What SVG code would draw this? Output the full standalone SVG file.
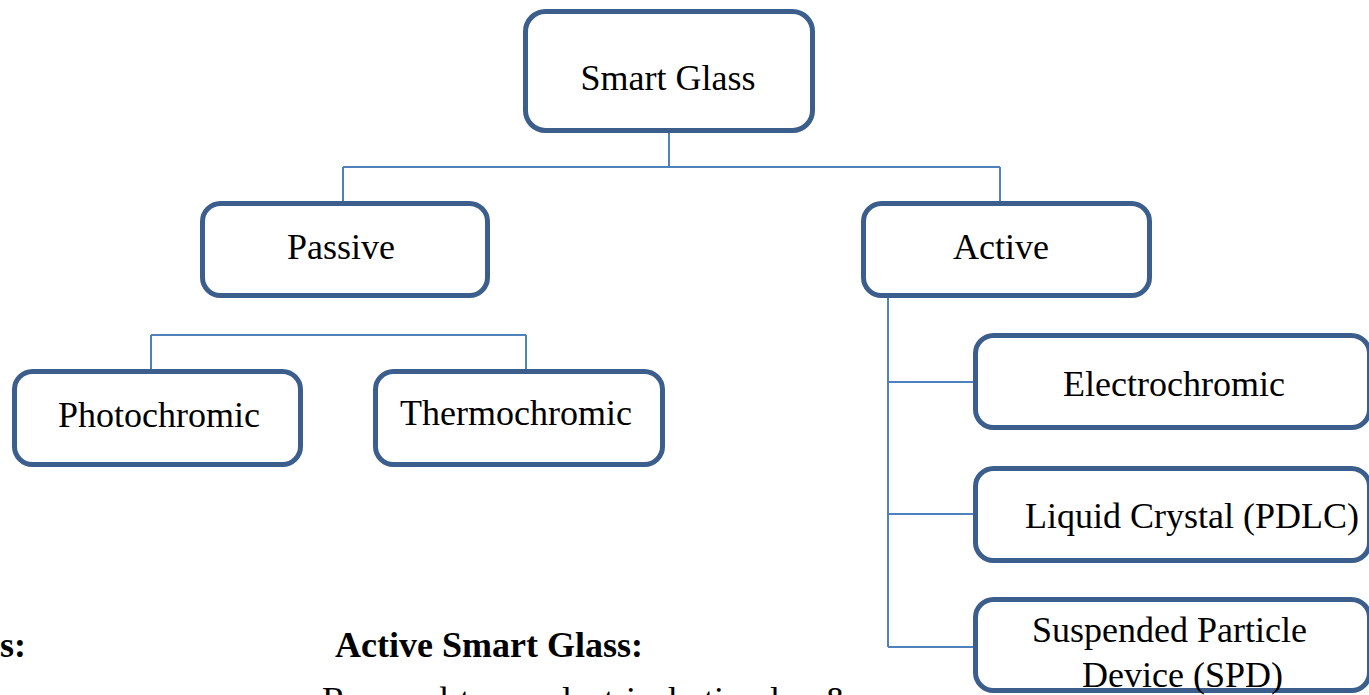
<svg xmlns="http://www.w3.org/2000/svg" width="1369" height="695" viewBox="0 0 1369 695">
<style>
.box{fill:#fff;stroke:#3B5E8C;stroke-width:5}
.lbl{font-family:"Liberation Serif","Times New Roman",serif;font-size:36px;fill:#000}
.mid{text-anchor:middle}
.bold{font-weight:bold}
.con{fill:none;stroke:#4F81BD;stroke-width:2}
</style>
<rect width="1369" height="695" fill="#fff"/>
<g id="connectors">
<path class="con" d="M669 133V167M343 167H1000M343 167V201M1000 167V201"/>
<path class="con" d="M151 335H526M151 335V369M526 335V369"/>
<path class="con" d="M888 298V647M888 382H973M888 514H973M888 647H973"/>
</g>
<g id="smart-glass"><rect class="box" x="525.5" y="11.5" width="287" height="119" rx="20"/><text class="lbl mid" x="668" y="90">Smart Glass</text></g>
<g id="passive"><rect class="box" x="202.5" y="203.5" width="285" height="92" rx="18"/><text class="lbl mid" x="341" y="259">Passive</text></g>
<g id="active"><rect class="box" x="863.5" y="203.5" width="286" height="92" rx="18"/><text class="lbl mid" x="1001" y="259">Active</text></g>
<g id="photochromic"><rect class="box" x="14.5" y="371.5" width="286" height="93" rx="18"/><text class="lbl" x="58" y="427">Photochromic</text></g>
<g id="thermochromic"><rect class="box" x="375.5" y="371.5" width="287" height="93" rx="18"/><text class="lbl" x="400" y="425">Thermochromic</text></g>
<g id="electrochromic"><rect class="box" x="975.5" y="335.5" width="394" height="92" rx="18"/><text class="lbl mid" x="1174" y="396">Electrochromic</text></g>
<g id="liquid-crystal"><rect class="box" x="975.5" y="468.5" width="394" height="92" rx="18"/><text class="lbl" x="1025" y="528">Liquid Crystal (PDLC)</text></g>
<g id="spd"><rect class="box" x="975.5" y="599.5" width="394" height="91" rx="18"/><text class="lbl" x="1032" y="642">Suspended Particle</text><text class="lbl" x="1082" y="687">Device (SPD)</text></g>
<g id="notes">
<text class="lbl bold" x="0" y="657">s:</text>
<text class="lbl bold" x="335" y="657">Active Smart Glass:</text>
<text class="lbl" x="322" y="712" word-spacing="3">Respond to an electrical stimulus &amp;</text>
</g>
</svg>
